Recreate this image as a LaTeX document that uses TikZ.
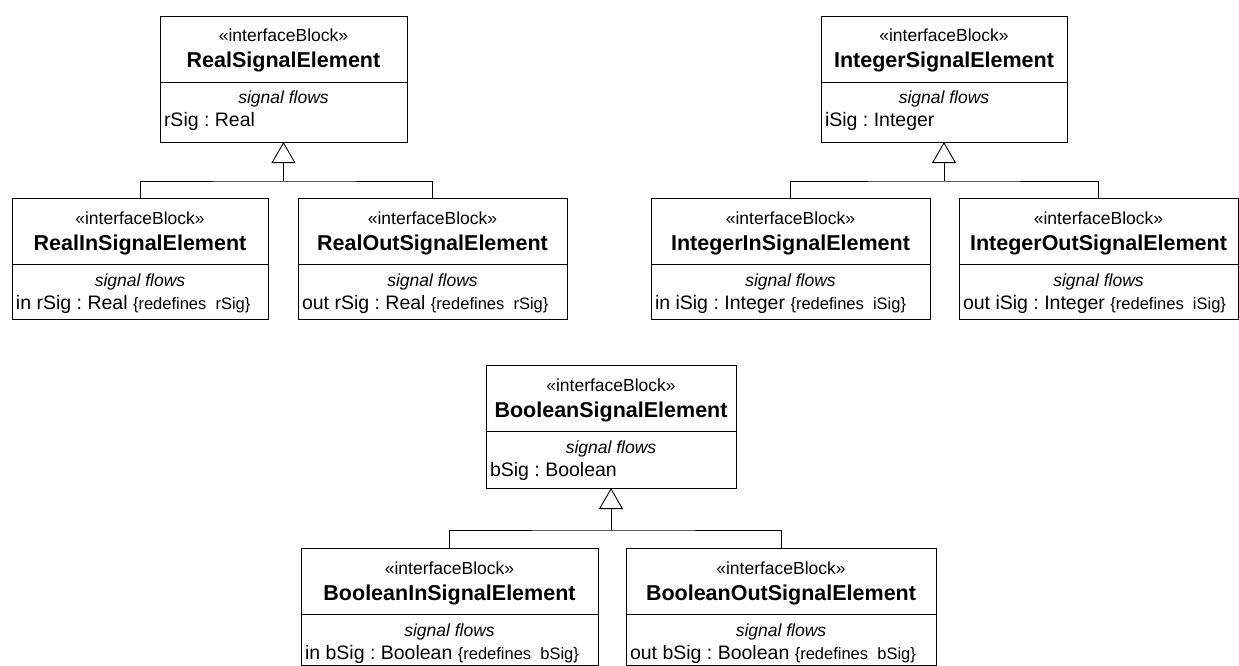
\documentclass[tikz,border=0pt]{standalone}
\usepackage{fontspec}
\setmainfont{Liberation Sans}
\usetikzlibrary{arrows.meta}
\frenchspacing
\newcommand{\stfont}{\fontsize{17.5}{20}\selectfont}
\newcommand{\ttlfont}{\fontsize{21.5}{24}\selectfont\bfseries}
\newcommand{\atfont}{\fontsize{19.5}{22}\selectfont}
\newcommand{\rdfont}{\fontsize{16.5}{19}\selectfont}
\newcommand{\ublock}[7]{%
  \node[blockbox, minimum width={(#4-#2)*1pt}, minimum height={(#5-#3)*1pt}] (#1) at (#2,#3) {};
  \draw[conn] ([yshift=-66pt]#1.north west) -- ([yshift=-66pt]#1.north east);
  \node[txt, anchor=base] (#1-st) at ([yshift=-26pt]#1.north) {\stfont «interfaceBlock»};
  \node[txt, anchor=base] (#1-tt) at ([yshift=-52pt]#1.north) {\ttlfont #6};
  \node[txt, anchor=base] (#1-sf) at ([yshift=-88pt]#1.north) {\stfont\itshape signal flows};
  \node[txt, anchor=base west] (#1-at) at ([xshift=4pt,yshift=-111pt]#1.north west) {#7};
}
\begin{document}
\begin{tikzpicture}[x=1pt,y=-1pt,
  blockbox/.style={draw=black, line width=0.9pt, inner sep=0pt, outer sep=0pt, anchor=north west, fill=white},
  conn/.style={draw=black, line width=0.9pt},
  txt/.style={inner sep=0pt, outer sep=0pt},
  gen/.style={conn, -{Triangle[open, length=21pt, width=24pt, line width=0.9pt]}}]
\useasboundingbox[fill=white] (0,0) rectangle (1239,666);

% Real family
\ublock{real}{160}{16}{407}{142}{RealSignalElement}{\atfont rSig : Real}
\ublock{rin}{12}{198}{268}{319}{RealInSignalElement}{\atfont in rSig : Real {\rdfont\{redefines\ \ rSig\}}}
\ublock{rout}{298}{198}{567}{319}{RealOutSignalElement}{\atfont out rSig : Real {\rdfont\{redefines\ \ rSig\}}}
\path (real.south) ++(0,39) coordinate (jr);
\draw[conn] (rin.north) |- (jr) -| (rout.north);
\draw[gen] (jr) -- (real.south);

% Integer family
\ublock{int}{821}{16}{1067}{142}{IntegerSignalElement}{\atfont iSig : Integer}
\ublock{iin}{651}{198}{930}{319}{IntegerInSignalElement}{\atfont in iSig : Integer {\rdfont\{redefines\ \ iSig\}}}
\ublock{iout}{959}{198}{1238}{319}{IntegerOutSignalElement}{\atfont out iSig : Integer {\rdfont\{redefines\ \ iSig\}}}
\path (int.south) ++(0,39) coordinate (ji);
\draw[conn] (iin.north) |- (ji) -| (iout.north);
\draw[gen] (ji) -- (int.south);

% Boolean family
\ublock{bool}{486}{365}{736}{488}{BooleanSignalElement}{\atfont bSig : Boolean}
\ublock{bin}{301}{548}{598}{665}{BooleanInSignalElement}{\atfont in bSig : Boolean {\rdfont\{redefines\ \ bSig\}}}
\ublock{bout}{626}{548}{936}{665}{BooleanOutSignalElement}{\atfont out bSig : Boolean {\rdfont\{redefines\ \ bSig\}}}
\path (bool.south) ++(0,42) coordinate (jb);
\draw[conn] (bin.north) |- (jb) -| (bout.north);
\draw[gen] (jb) -- (bool.south);
\end{tikzpicture}
\end{document}
